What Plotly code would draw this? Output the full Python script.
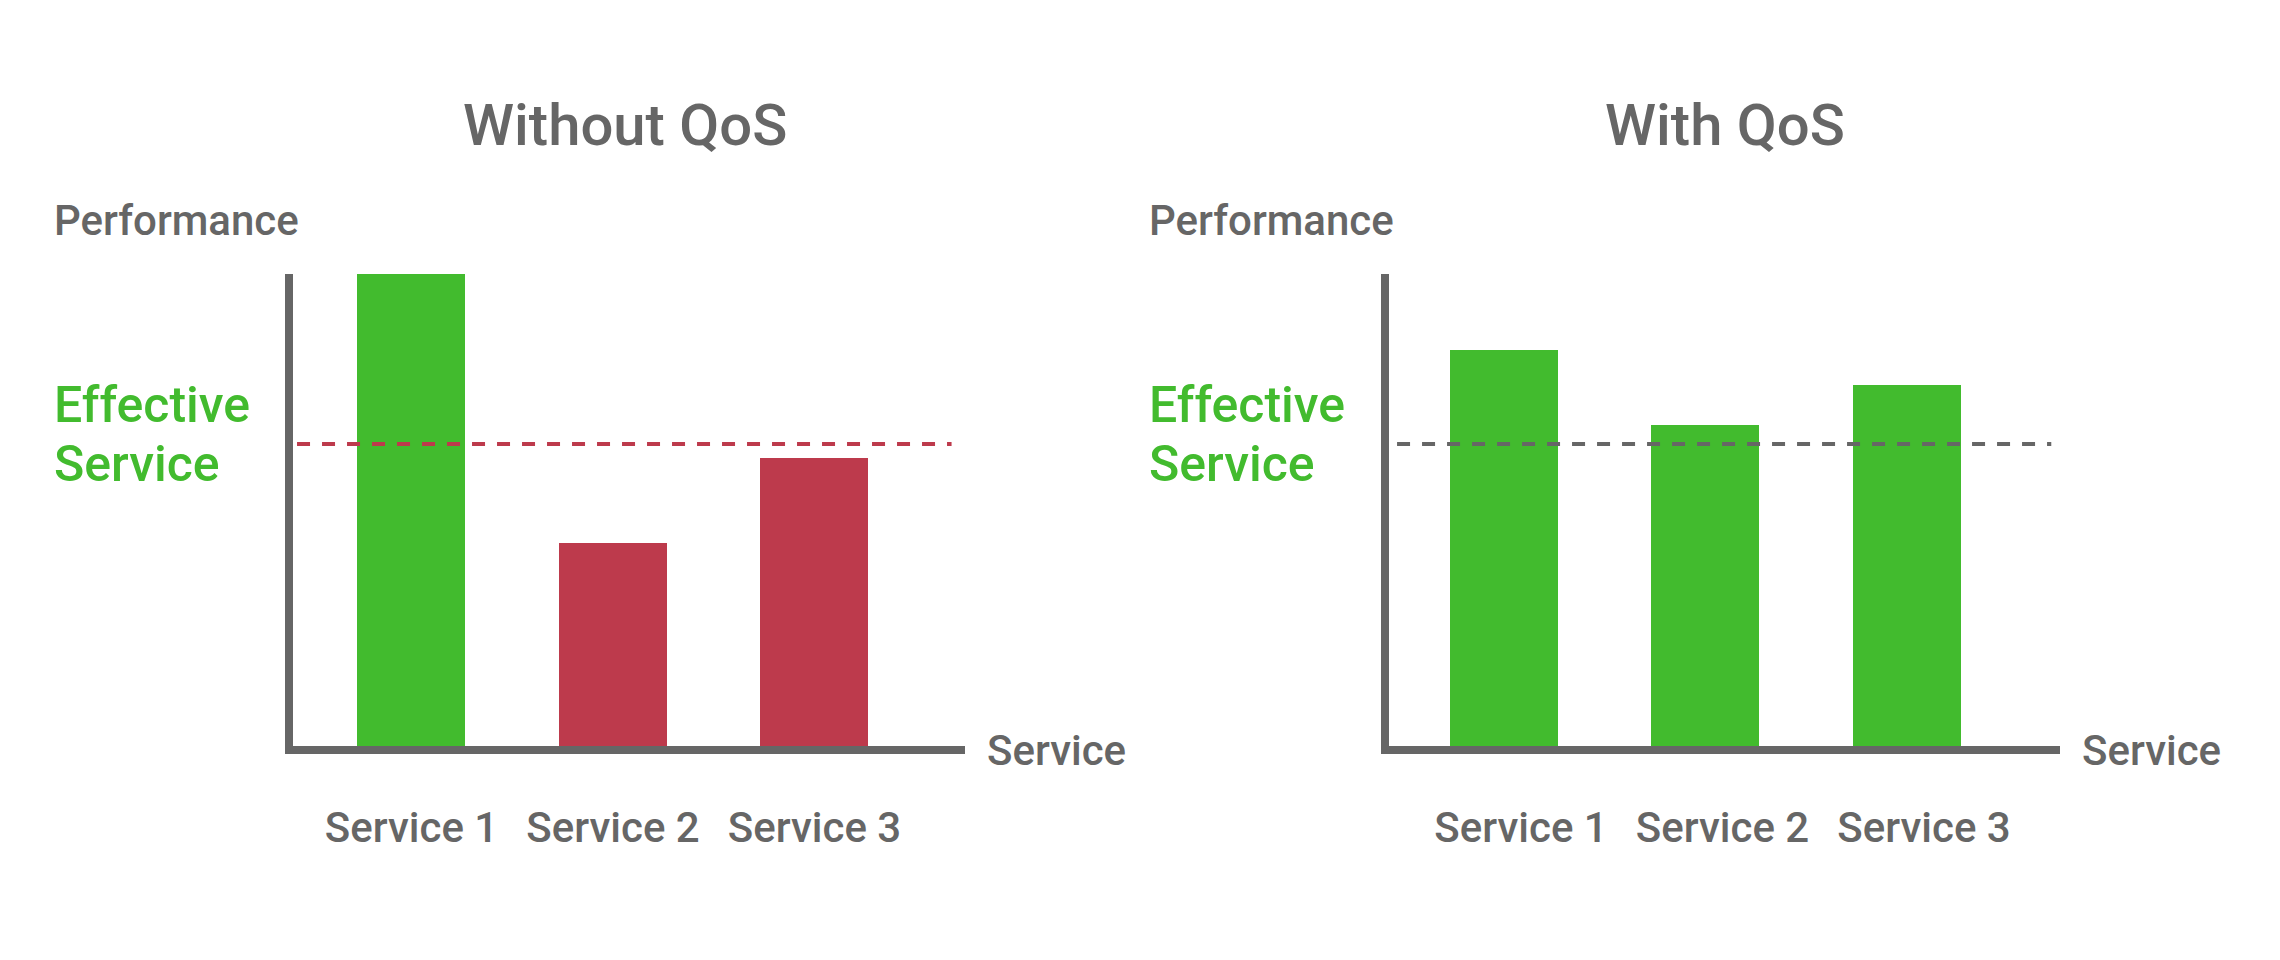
import plotly.graph_objects as go

W, H = 2280, 960

categories = ["Service 1", "Service 2", "Service 3"]
without_qos = [100, 43, 61]
with_qos = [84, 68, 76.5]
threshold = 64
without_colors = ["#42BB2E", "#BD3A4C", "#BD3A4C"]
with_colors = ["#42BB2E", "#42BB2E", "#42BB2E"]

GRAY = "#666666"
GREEN = "#42BB2E"
RED = "#BD3A4C"
FONT = "Roboto"


def px_x(p):
    return p / W


def px_y(p):
    return 1 - p / H


fig = go.Figure()
fig.add_trace(go.Bar(x=categories, y=without_qos, marker=dict(color=without_colors, line=dict(width=0)),
                     width=0.536, xaxis="x", yaxis="y", hoverinfo="skip"))
fig.add_trace(go.Bar(x=categories, y=with_qos, marker=dict(color=with_colors, line=dict(width=0)),
                     width=0.536, xaxis="x2", yaxis="y2", hoverinfo="skip"))

axis_common = dict(showline=True, linewidth=8, linecolor=GRAY, showgrid=False, zeroline=False)
tickfont = dict(family=FONT, size=42, color=GRAY, weight=500)

RIGHT_RANGE = [-0.57, 2.76]
LABEL_SHIFT = 0.085  # tick labels in the right panel sit slightly right of the bars

fig.update_layout(
    width=W, height=H,
    margin=dict(l=0, r=0, t=0, b=0),
    paper_bgcolor="white", plot_bgcolor="white",
    showlegend=False,
    bargap=0,
    xaxis=dict(domain=[px_x(293), px_x(965)], anchor="y", type="category",
               range=[-0.588, 2.747], ticks="", tickfont=tickfont, ticklabelstandoff=38,
               fixedrange=True, **axis_common),
    yaxis=dict(domain=[px_y(746), px_y(274)], anchor="x", range=[0, 100],
               showticklabels=False, ticks="", fixedrange=True, **axis_common),
    xaxis2=dict(domain=[px_x(1389), px_x(2060)], anchor="y2", type="category",
                range=RIGHT_RANGE, showticklabels=False, ticks="",
                fixedrange=True, **axis_common),
    xaxis3=dict(domain=[px_x(1389), px_x(2060)], anchor="y2", type="category",
                overlaying="x2", side="bottom",
                categoryorder="array", categoryarray=categories,
                tickvals=categories, ticktext=categories,
                range=[RIGHT_RANGE[0] - LABEL_SHIFT, RIGHT_RANGE[1] - LABEL_SHIFT],
                showline=True, linewidth=8, linecolor="rgba(0,0,0,0)",
                showgrid=False, zeroline=False, ticks="",
                tickfont=tickfont, ticklabelstandoff=38, fixedrange=True),
    yaxis2=dict(domain=[px_y(746), px_y(274)], anchor="x2", range=[0, 100],
                showticklabels=False, ticks="", fixedrange=True, **axis_common),
)

# Invisible carrier trace so the label axis has its categories
fig.add_trace(go.Scatter(x=categories, y=[None, None, None], xaxis="x3", yaxis="y2",
                         mode="markers", hoverinfo="skip", showlegend=False))

# Effective service thresholds
fig.add_shape(type="line", xref="x domain", yref="y", x0=0.006, x1=0.98, y0=threshold, y1=threshold,
              line=dict(color=RED, width=4, dash="13px,12px"))
fig.add_shape(type="line", xref="x2 domain", yref="y2", x0=0.012, x1=0.987, y0=threshold, y1=threshold,
              line=dict(color=GRAY, width=4, dash="13px,12px"))


def label(text, x, y, size, color, anchor="left", weight=500):
    fig.add_annotation(text=text, x=px_x(x), y=px_y(y), xref="paper", yref="paper",
                       xanchor=anchor, yanchor="middle", showarrow=False,
                       font=dict(family=FONT, size=size, color=color, weight=weight))


# Titles
label("Without QoS", 625, 125, 58, GRAY, anchor="center")
label("With QoS", 1725, 125, 58, GRAY, anchor="center")
# Axis titles
for x0, xs in [(52, 985), (1147, 2080)]:
    label("Performance", x0, 220.5, 42, GRAY)
    label("Effective", x0, 404.5, 50, GREEN)
    label("Service", x0, 463.5, 50, GREEN)
    label("Service", xs, 750, 42, GRAY)

fig.write_html("out.html", config={"displayModeBar": False},
               post_script="document.body.style.margin='0px';document.body.style.overflow='hidden';")
